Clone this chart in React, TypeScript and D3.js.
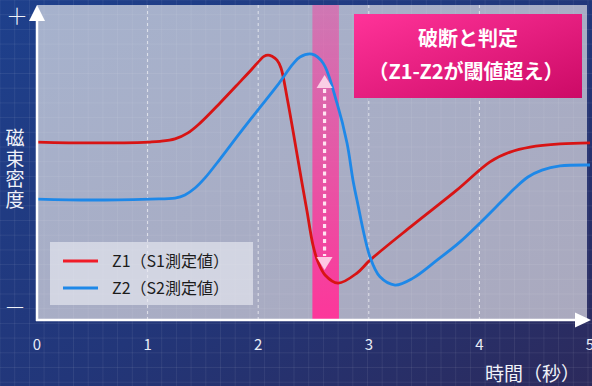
import React from "react";
import * as d3 from "d3";

const W = 592;
const H = 386;

const timeTicks = [0, 1, 2, 3, 4, 5];
const gridTimes = [1, 2, 3, 4];

const z1Time = [0, 0.497, 1.022, 1.112, 1.248, 1.365, 1.474, 1.655, 1.835, 1.944, 2.016, 2.052, 2.089, 2.125, 2.17, 2.206, 2.26, 2.315, 2.36, 2.396, 2.441, 2.495, 2.541, 2.604, 2.722, 2.893, 3.011, 3.4, 3.798, 4.096, 4.277, 4.458, 4.729, 5.0];
const z1Value = [56.5, 56.2, 56.5, 56.7, 57.5, 59.4, 62.5, 68.9, 75.6, 79.7, 82.5, 83.7, 84.1, 83.7, 82.5, 80.0, 70.8, 60.0, 50.8, 43.5, 34.6, 23.8, 18.4, 14.3, 11.7, 14.9, 19.0, 30.2, 41.3, 50.2, 53.3, 54.9, 55.9, 56.2];

const z2Time = [0, 0.497, 1.022, 1.248, 1.338, 1.429, 1.519, 1.655, 1.835, 1.998, 2.17, 2.315, 2.378, 2.486, 2.586, 2.712, 2.803, 2.857, 2.893, 3.011, 3.101, 3.237, 3.4, 3.617, 3.825, 4.005, 4.213, 4.322, 4.439, 4.566, 4.729, 5.0];
const z2Value = [38.4, 38.1, 38.4, 38.7, 39.7, 41.9, 45.1, 51.1, 59.4, 66.7, 74.3, 81.3, 83.5, 84.4, 81.6, 68.9, 56.2, 44.4, 38.1, 20.0, 13.7, 11.1, 13.3, 19.0, 24.8, 30.8, 38.1, 41.9, 45.4, 47.6, 48.9, 49.2];

const bandStart = 2.49;
const bandEnd = 2.73;
const arrowTime = 2.6;
const arrowTop = 77.8;
const arrowBottom = 15.9;

const legendLabels = ["Z1（S1測定値）", "Z2（S2測定値）"];
const seriesColors = ["#d81414", "#1e88e8"];
const legendColors = ["#f01c28", "#1e88e8"];
const annotationLines = ["破断と判定", "（Z1-Z2が閾値超え）"];
const yAxisLabel = ["磁", "束", "密", "度"];
const xAxisLabel = "時間（秒）";

const FONT = "'Noto Sans CJK JP', 'Noto Sans', sans-serif";

export default function App() {
  const x = d3.scaleLinear().domain([0, 5]).range([37, 590]);
  const y = d3.scaleLinear().domain([0, 100]).range([320, 5]);

  const line = d3
    .line<[number, number]>()
    .x((d) => x(d[0]))
    .y((d) => y(d[1]))
    .curve(d3.curveCatmullRom.alpha(0.5));

  const z1 = z1Time.map((t, i) => [t, z1Value[i]] as [number, number]);
  const z2 = z2Time.map((t, i) => [t, z2Value[i]] as [number, number]);

  const plotLeft = x(0);
  const plotRight = x(5) - 3;
  const plotTop = y(100);
  const plotBottom = y(0);

  const gridLines: React.ReactNode[] = [];
  for (let gx = 0; gx <= W; gx += 14.7) {
    gridLines.push(<line key={"gx" + gx} x1={gx} x2={gx} y1={0} y2={H} stroke="#ffffff" strokeOpacity={0.07} strokeWidth={1} />);
  }
  for (let gy = 0; gy <= H; gy += 14.7) {
    gridLines.push(<line key={"gy" + gy} x1={0} x2={W} y1={gy} y2={gy} stroke="#ffffff" strokeOpacity={0.07} strokeWidth={1} />);
  }

  const ax = x(arrowTime);
  const aTop = y(arrowTop);
  const aBot = y(arrowBottom);

  return (
    <svg
      width={W}
      height={H}
      style={{ position: "fixed", left: 0, top: 0, display: "block" }}
      fontFamily={FONT}
    >
      <defs>
        <linearGradient id="bg" x1="0" y1="0" x2="1" y2="1">
          <stop offset="0" stopColor="#1e408c" />
          <stop offset="0.55" stopColor="#223679" />
          <stop offset="1" stopColor="#2c2a5c" />
        </linearGradient>
        <linearGradient id="plotbg" x1="0" y1="0" x2="1" y2="1">
          <stop offset="0" stopColor="#a6b2cd" />
          <stop offset="1" stopColor="#aaa9be" />
        </linearGradient>
        <linearGradient id="band" x1="0" y1="0" x2="0" y2="1">
          <stop offset="0" stopColor="#ff3399" stopOpacity={0.45} />
          <stop offset="1" stopColor="#ff3399" stopOpacity={0.97} />
        </linearGradient>
        <linearGradient id="note" x1="0" y1="0" x2="1" y2="1">
          <stop offset="0" stopColor="#ff3399" />
          <stop offset="1" stopColor="#cc0a66" />
        </linearGradient>
      </defs>

      <rect x={0} y={0} width={W} height={H} fill="url(#bg)" />
      <rect x={plotLeft} y={plotTop} width={plotRight - plotLeft} height={plotBottom - plotTop} fill="url(#plotbg)" />
      {gridLines}

      {gridTimes.map((t) => (
        <line
          key={"dg" + t}
          x1={x(t)}
          x2={x(t)}
          y1={plotTop}
          y2={plotBottom}
          stroke="#ffffff"
          strokeOpacity={0.65}
          strokeWidth={1}
          strokeDasharray="3 3"
        />
      ))}

      <rect x={x(bandStart)} y={plotTop} width={x(bandEnd) - x(bandStart)} height={plotBottom - plotTop} fill="url(#band)" />

      <path d={line(z1) || ""} fill="none" stroke={seriesColors[0]} strokeWidth={2.8} strokeLinejoin="round" />
      <path d={line(z2) || ""} fill="none" stroke={seriesColors[1]} strokeWidth={2.8} strokeLinejoin="round" />

      {/* double-headed dotted arrow */}
      <line x1={ax} x2={ax} y1={aTop + 14} y2={aBot - 14} stroke="#ffe4f1" strokeWidth={3.2} strokeDasharray="4 3.5" />
      <path d={`M${ax},${aTop} L${ax + 8},${aTop + 13} L${ax - 8},${aTop + 13} Z`} fill="#ffe0ef" fillOpacity={0.85} />
      <path d={`M${ax},${aBot} L${ax + 8},${aBot - 13} L${ax - 8},${aBot - 13} Z`} fill="#ffe0ef" fillOpacity={0.85} />

      {/* annotation */}
      <rect x={354} y={14} width={228} height={84} fill="url(#note)" />
      <text x={468} y={46} textAnchor="middle" fill="#ffffff" fontSize={20} fontWeight={700}>
        {annotationLines[0]}
      </text>
      <text x={466} y={79} textAnchor="middle" fill="#ffffff" fontSize={20} fontWeight={700}>
        {annotationLines[1]}
      </text>

      {/* legend */}
      <rect x={50} y={242} width={203} height={63} fill="#eceef4" fillOpacity={0.62} />
      {legendLabels.map((lab, i) => (
        <g key={lab}>
          <line x1={63} x2={98} y1={261 + i * 27} y2={261 + i * 27} stroke={legendColors[i]} strokeWidth={3} />
          <text x={112} y={267 + i * 27} fontSize={16} fill="#1c1c1c">
            {lab}
          </text>
        </g>
      ))}

      {/* axes */}
      <line x1={plotLeft} x2={plotLeft} y1={plotBottom + 1} y2={20} stroke="#ffffff" strokeWidth={2.5} />
      <path d={`M${plotLeft},5 L${plotLeft + 8},21 L${plotLeft - 8},21 Z`} fill="#ffffff" />
      <line x1={plotLeft - 1} x2={577} y1={plotBottom} y2={plotBottom} stroke="#ffffff" strokeWidth={2.5} />
      <path d={`M591,${plotBottom} L575,${plotBottom - 7.5} L575,${plotBottom + 7.5} Z`} fill="#ffffff" />

      {timeTicks.map((t) => (
        <text key={"t" + t} x={x(t)} y={350} textAnchor="middle" fontSize={15} fill="#e8ecf6">
          {t}
        </text>
      ))}

      <text x={17} y={24} textAnchor="middle" fontSize={22} fontWeight={300} fill="#f0f2f8">
        ＋
      </text>
      <text x={15} y={315} textAnchor="middle" fontSize={22} fontWeight={300} fill="#f0f2f8">
        －
      </text>

      {yAxisLabel.map((c, i) => (
        <text key={c} x={15} y={145 + i * 20.5} textAnchor="middle" fontSize={19} fill="#f0f2f8">
          {c}
        </text>
      ))}

      <text x={485} y={381} fontSize={19} fill="#f0f2f8">
        {xAxisLabel}
      </text>
    </svg>
  );
}
